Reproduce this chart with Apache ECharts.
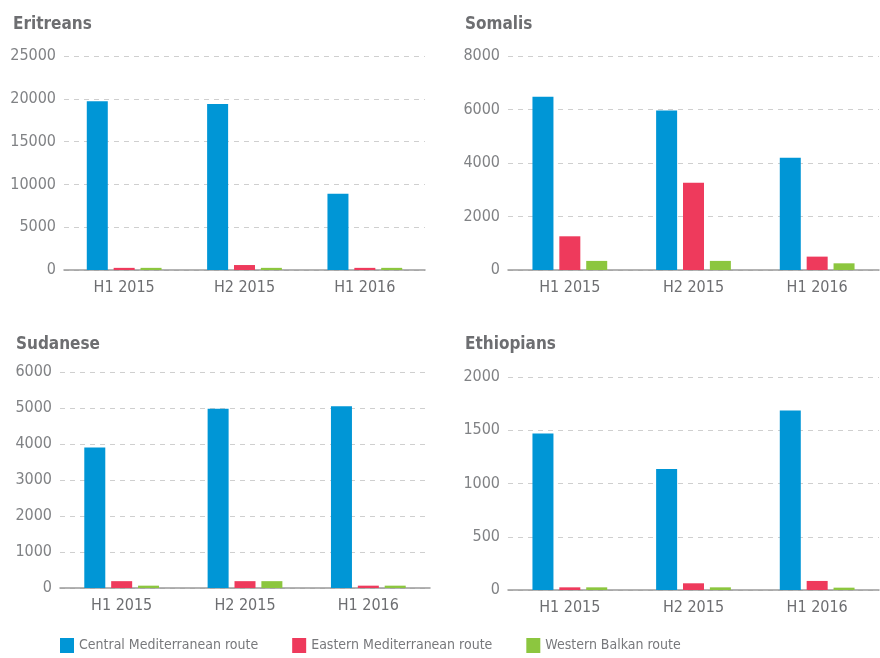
<!DOCTYPE html>
<html>
<head>
<meta charset="utf-8">
<script src="https://cdn.jsdelivr.net/npm/echarts@6/dist/echarts.min.js"></script>
<style>
  html, body { margin: 0; padding: 0; background: #fff; }
  #main { width: 880px; height: 658px; }
</style>
</head>
<body>
<div id="main"></div>
<script>
/*
 * Migrants by route, four nationalities
 */
var categories = ['H1 2015', 'H2 2015', 'H1 2016'];
var routes = ['Central Mediterranean route', 'Eastern Mediterranean route', 'Western Balkan route'];
var colors = ['#0096d6', '#ee3a5c', '#8cc63f'];
var panelTitles = ['Eritreans', 'Somalis', 'Sudanese', 'Ethiopians'];

// values per panel: [central, eastern, western]
var eritreans = [[19700, 19400, 8900], [250, 580, 250], [250, 250, 250]];
var somalis = [[6480, 5960, 4200], [1260, 3260, 500], [340, 340, 250]];
var sudanese = [[3900, 4980, 5050], [190, 190, 65], [65, 190, 65]];
var ethiopians = [[1470, 1135, 1685], [25, 63, 85], [25, 25, 22]];
var panelData = [eritreans, somalis, sudanese, ethiopians];

// axis limits
var yMax = [25000, 8000, 6000, 2000];
var yStep = [5000, 2000, 1000, 500];

var fontName = "'Liberation Sans Narrow', 'DejaVu Sans Condensed', sans-serif";

var grids = [
	{ left: 64, top: 56, width: 361, height: 214 },
	{ left: 508, top: 56, width: 371, height: 214 },
	{ left: 60, top: 372, width: 370, height: 216 },
	{ left: 508, top: 377, width: 371, height: 213 }
];
var titlePos = [[8, 11], [460, 11], [11, 331], [460, 331]];

var dom = document.getElementById('main');
var myChart = echarts.init(dom);

var titles = [], xAxes = [], yAxes = [], series = [];
for (var i = 0; i < 4; i++) {
	titles.push({
		text : panelTitles[i],
		left : titlePos[i][0],
		top : titlePos[i][1],
		textStyle : { fontFamily : fontName, fontSize : 17, fontWeight : 'bold', color : '#6d6e71' }
	});
	xAxes.push({
		type : 'category',
		gridIndex : i,
		data : categories,
		axisTick : { show : false },
		axisLine : { lineStyle : { color : '#9a9a9a', width : 1.5 } },
		axisLabel : { fontFamily : fontName, fontSize : 16, color : '#6d6e71', margin : 10 }
	});
	yAxes.push({
		type : 'value',
		gridIndex : i,
		min : 0,
		max : yMax[i],
		interval : yStep[i],
		axisLine : { show : false },
		axisTick : { show : false },
		axisLabel : {
			fontFamily : fontName, fontSize : 16, color : '#808285', margin : 8,
			formatter : function(v) { return String(v); }
		},
		splitLine : { lineStyle : { color : '#cfcfcf', type : [5, 5], width : 1 } }
	});
	for (var s = 0; s < 3; s++) {
		series.push({
			name : routes[s],
			type : 'bar',
			xAxisIndex : i,
			yAxisIndex : i,
			barWidth : 21,
			barGap : '28%',
			itemStyle : { color : colors[s] },
			data : panelData[i][s]
		});
	}
}

option = {
	animation : false,
	title : titles,
	grid : grids,
	xAxis : xAxes,
	yAxis : yAxes,
	legend : {
		left : 55,
		top : 633,
		icon : 'rect',
		itemWidth : 14,
		itemHeight : 15,
		itemGap : 34,
		data : routes,
		textStyle : { fontFamily : fontName, fontSize : 14, color : '#77787b' }
	},
	series : series
};
myChart.setOption(option);
</script>
</body>
</html>
